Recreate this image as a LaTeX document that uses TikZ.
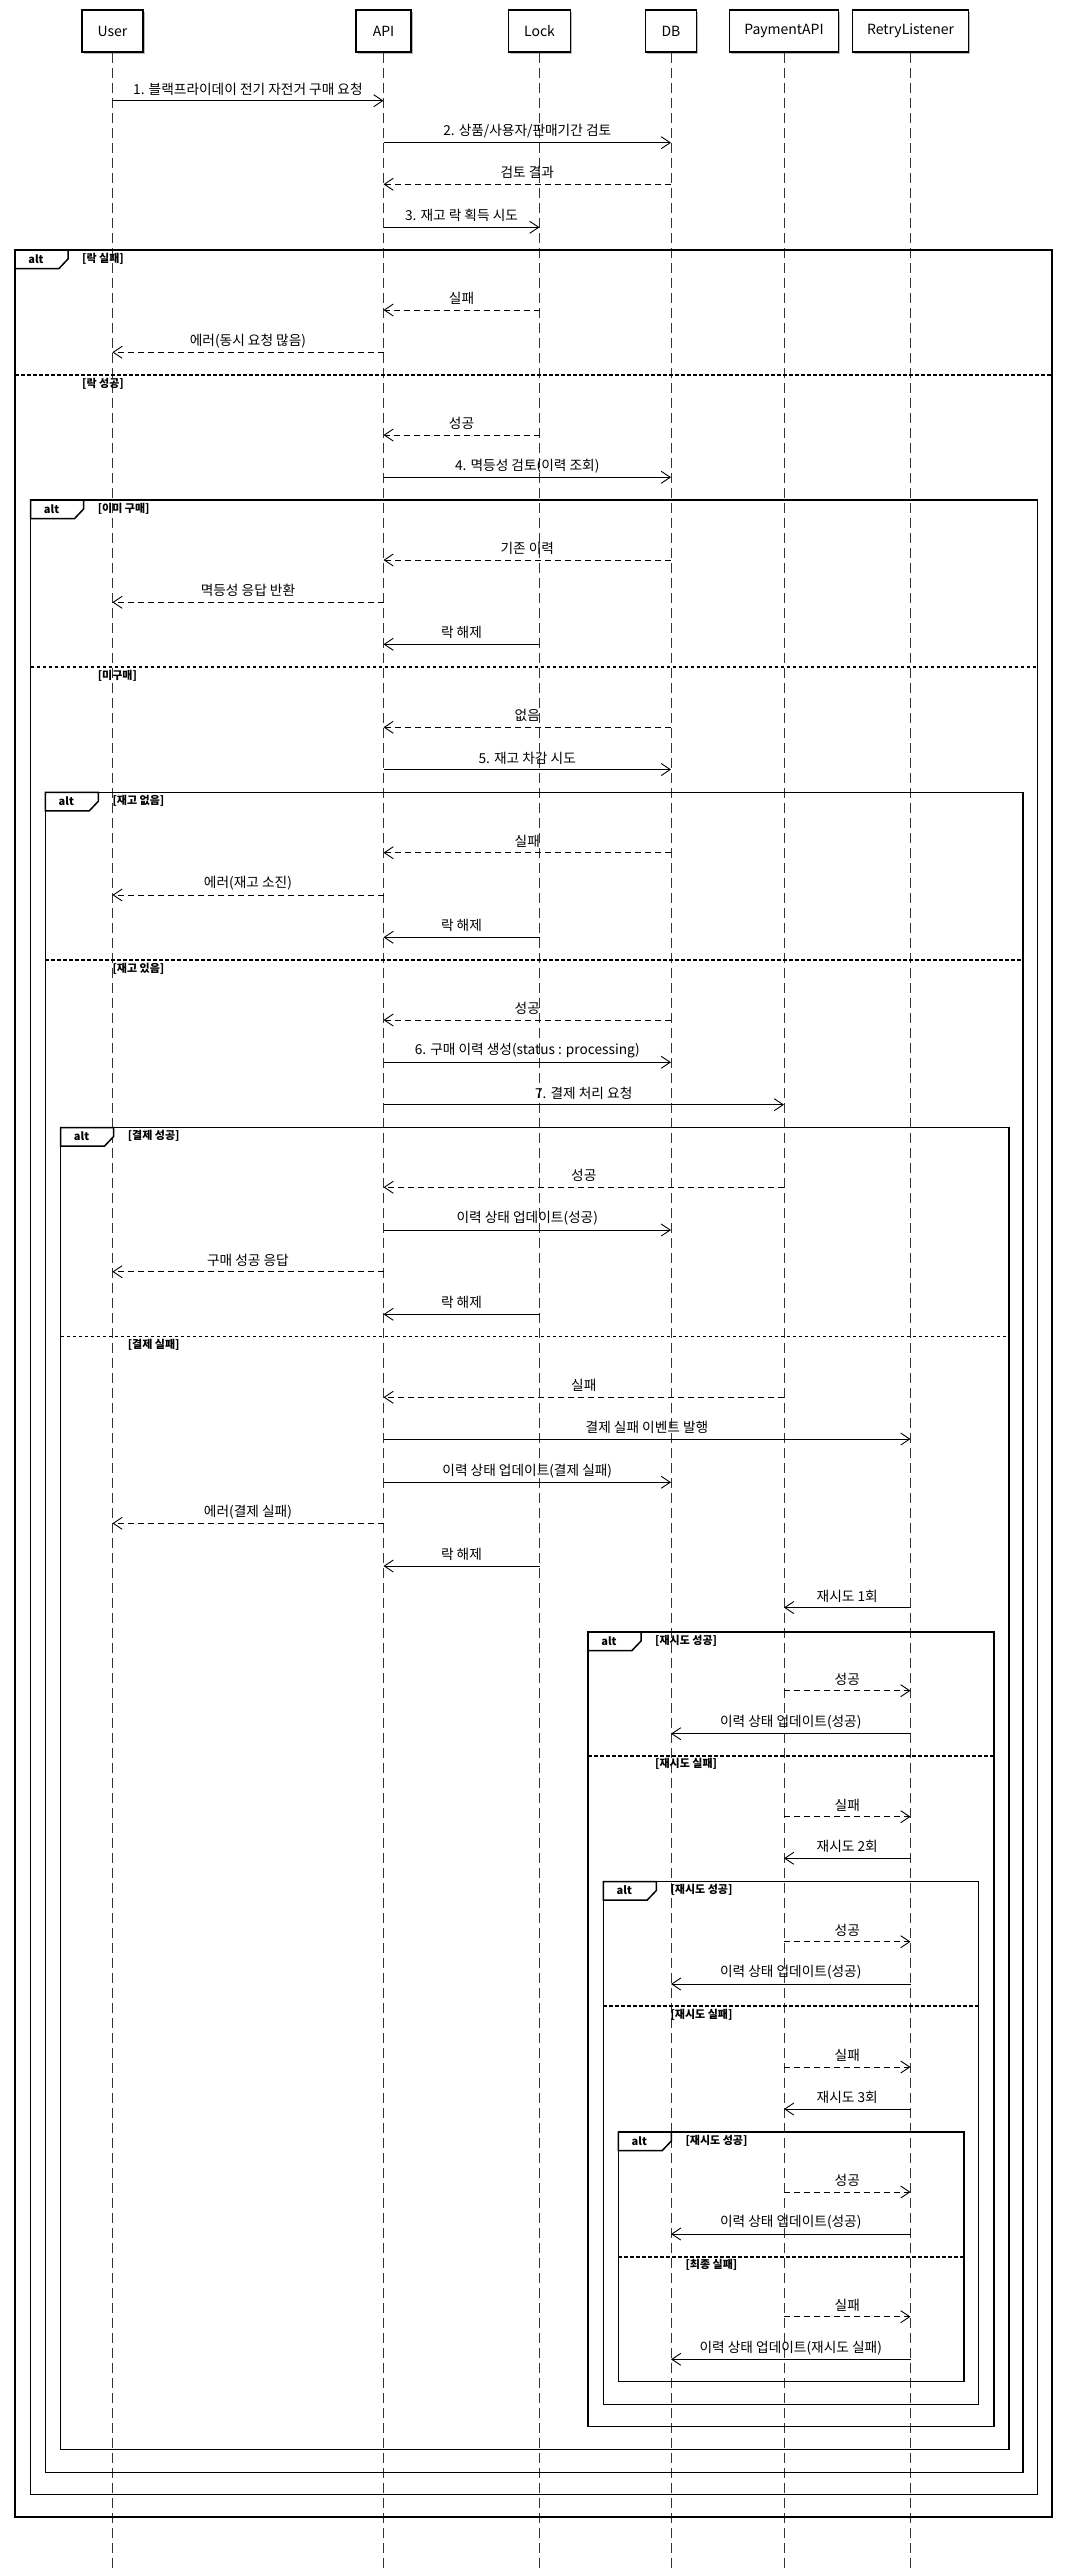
\documentclass[tikz,border=0pt]{standalone}
\usepackage{fontspec}
\setmainfont{Noto Sans CJK KR}
\usetikzlibrary{arrows.meta,shadows}
\newcommand\seqmsg[6]{%
  \coordinate (#1y) at (0,#4);
  \coordinate (#1a) at (#2.center |- #1y);
  \coordinate (#1b) at (#3.center |- #1y);
  \draw[#5] (#1a) -- node[lbl] (#1l) {#6} (#1b);}
\newcommand\altbox[6]{%
  \draw[frame] (#2,#3) rectangle (#4,#5);
  \draw[frame, fill=white] (#2,#3) -- ++(53,0) -- ++(0,9) -- ++(-9,9.5) -- (#2,#3+18.5) -- cycle;
  \node[altlbl] (#1t) at (#2+21,#3+9) {alt};
  \node[guard] (#1g) at (#2+67,#3+8.5) {#6};}
\newcommand\altsplit[5]{%
  \draw[divider] (#2,#4) -- (#3,#4);
  \node[guard] (#1g) at (#2+67,#4+8.5) {#5};}
\begin{document}
\begin{tikzpicture}[x=1pt,y=-1pt,
  part/.style={draw, line width=1.5pt, fill=white, minimum height=42pt, inner sep=0pt,
    font=\fontsize{14}{16}\selectfont,
    drop shadow={shadow xshift=1.6pt, shadow yshift=-1.6pt, opacity=0.45, fill=black!60}},
  lifeline/.style={line width=0.8pt, black!80, dash pattern=on 10pt off 5pt},
  msgsolid/.style={line width=0.9pt, -{Straight Barb[length=9pt,width=12pt,line width=0.9pt]}},
  msgdash/.style={msgsolid, dash pattern=on 6pt off 4pt},
  lbl/.style={font=\fontsize{13.7}{15}\selectfont, yshift=11.5pt, inner sep=0pt},
  frame/.style={line width=1.5pt},
  divider/.style={line width=1.9pt, dash pattern=on 3.5pt off 2.5pt},
  guard/.style={font=\bfseries\fontsize{11}{13}\selectfont, anchor=west, inner sep=0pt},
  altlbl/.style={font=\bfseries\fontsize{11}{13}\selectfont, inner sep=0pt},
]
\useasboundingbox (0,0) rectangle (1069,2570);
% participants
\node[part, minimum width=61pt] (user) at (112.4,31) {User};
\node[part, minimum width=55pt] (api) at (383.5,31) {API};
\node[part, minimum width=62pt] (lock) at (539.5,31) {Lock};
\node[part, minimum width=51pt] (db) at (671,31) {DB};
\node[part, minimum width=109pt] (pay) at (784,31) {PaymentAPI};
\node[part, minimum width=116pt] (retry) at (910.5,31) {RetryListener};
% lifelines
\foreach \p in {user,api,lock,db,pay,retry}{
  \coordinate (\p end) at (\p.center |- 0,2570);
  \draw[lifeline] (\p.south) -- (\p end);
}
% frames
\altbox{f1}{15}{250}{1052}{2517}{[락 실패]}
\altsplit{d1}{15}{1052}{375}{[락 성공]}
\altbox{f2}{30.6}{500}{1037.5}{2494.3}{[이미 구매]}
\altsplit{d2}{30.6}{1037.5}{667.3}{[미구매]}
\altbox{f3}{45.3}{792.3}{1023}{2472.3}{[재고 없음]}
\altsplit{d3}{45.3}{1023}{960}{[재고 있음]}
\altbox{f4}{60.6}{1127.5}{1009}{2449.5}{[결제 성공]}
\altsplit{d4}{60.6}{1009}{1336.5}{[결제 실패]}
\altbox{f5}{588}{1632}{994}{2426.7}{[재시도 성공]}
\altsplit{d5}{588}{994}{1755.7}{[재시도 실패]}
\altbox{f6}{603.3}{1881.5}{978.7}{2404.3}{[재시도 성공]}
\altsplit{d6}{603.3}{978.7}{2006.3}{[재시도 실패]}
\altbox{f7}{618.3}{2132}{964}{2381.7}{[재시도 성공]}
\altsplit{d7}{618.3}{964}{2256.7}{[최종 실패]}
% messages
\seqmsg{m1}{user}{api}{100.7}{msgsolid}{1. 블랙프라이데이 전기 자전거 구매 요청}
\seqmsg{m2}{api}{db}{142.7}{msgsolid}{2. 상품/사용자/판매기간 검토}
\seqmsg{m3}{db}{api}{184.3}{msgdash}{검토 결과}
\seqmsg{m4}{api}{lock}{227.3}{msgsolid}{3. 재고 락 획득 시도}
\seqmsg{m5}{lock}{api}{310}{msgdash}{실패}
\seqmsg{m6}{api}{user}{352.3}{msgdash}{에러(동시 요청 많음)}
\seqmsg{m7}{lock}{api}{435}{msgdash}{성공}
\seqmsg{m8}{api}{db}{477.3}{msgsolid}{4. 멱등성 검토(이력 조회)}
\seqmsg{m9}{db}{api}{560}{msgdash}{기존 이력}
\seqmsg{m10}{api}{user}{602.3}{msgdash}{멱등성 응답 반환}
\seqmsg{m11}{lock}{api}{644.3}{msgsolid}{락 해제}
\seqmsg{m12}{db}{api}{727.3}{msgdash}{없음}
\seqmsg{m13}{api}{db}{769.5}{msgsolid}{5. 재고 차감 시도}
\seqmsg{m14}{db}{api}{852.7}{msgdash}{실패}
\seqmsg{m15}{api}{user}{895}{msgdash}{에러(재고 소진)}
\seqmsg{m16}{lock}{api}{937.3}{msgsolid}{락 해제}
\seqmsg{m17}{db}{api}{1020}{msgdash}{성공}
\seqmsg{m18}{api}{db}{1062.3}{msgsolid}{6. 구매 이력 생성(status : processing)}
\seqmsg{m19}{api}{pay}{1104.7}{msgsolid}{7. 결제 처리 요청}
\seqmsg{m20}{pay}{api}{1187.3}{msgdash}{성공}
\seqmsg{m21}{api}{db}{1230}{msgsolid}{이력 상태 업데이트(성공)}
\seqmsg{m22}{api}{user}{1271.7}{msgdash}{구매 성공 응답}
\seqmsg{m23}{lock}{api}{1314.3}{msgsolid}{락 해제}
\seqmsg{m24}{pay}{api}{1397.3}{msgdash}{실패}
\seqmsg{m25}{api}{retry}{1439}{msgsolid}{결제 실패 이벤트 발행}
\seqmsg{m26}{api}{db}{1482.3}{msgsolid}{이력 상태 업데이트(결제 실패)}
\seqmsg{m27}{api}{user}{1523.3}{msgdash}{에러(결제 실패)}
\seqmsg{m28}{lock}{api}{1566}{msgsolid}{락 해제}
\seqmsg{m29}{retry}{pay}{1607.5}{msgsolid}{재시도 1회}
\seqmsg{m30}{pay}{retry}{1690.7}{msgdash}{성공}
\seqmsg{m31}{retry}{db}{1733.7}{msgsolid}{이력 상태 업데이트(성공)}
\seqmsg{m32}{pay}{retry}{1816.7}{msgdash}{실패}
\seqmsg{m33}{retry}{pay}{1858.3}{msgsolid}{재시도 2회}
\seqmsg{m34}{pay}{retry}{1941.7}{msgdash}{성공}
\seqmsg{m35}{retry}{db}{1984}{msgsolid}{이력 상태 업데이트(성공)}
\seqmsg{m36}{pay}{retry}{2067}{msgdash}{실패}
\seqmsg{m37}{retry}{pay}{2109}{msgsolid}{재시도 3회}
\seqmsg{m38}{pay}{retry}{2192}{msgdash}{성공}
\seqmsg{m39}{retry}{db}{2234}{msgsolid}{이력 상태 업데이트(성공)}
\seqmsg{m40}{pay}{retry}{2316.7}{msgdash}{실패}
\seqmsg{m41}{retry}{db}{2359.3}{msgsolid}{이력 상태 업데이트(재시도 실패)}
\end{tikzpicture}
\end{document}
